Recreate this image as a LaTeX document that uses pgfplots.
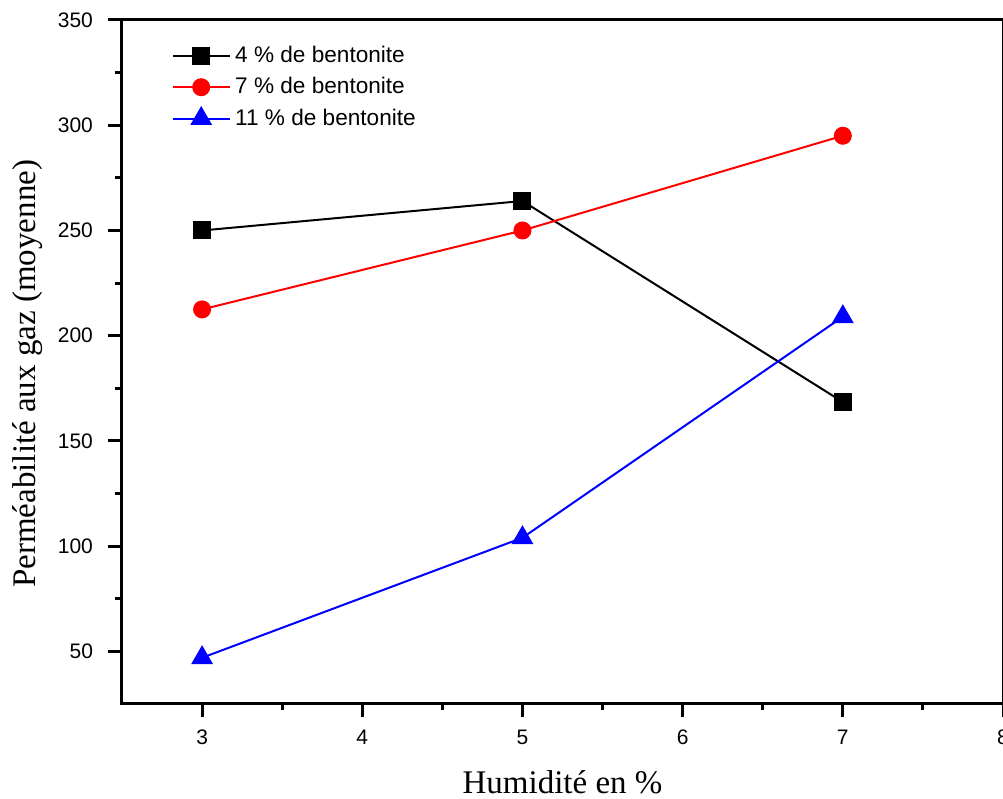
\documentclass[border=0pt]{standalone}
\usepackage{pgfplots}
\pgfplotsset{compat=1.18}
\usepackage{fontspec}
\setmainfont{Liberation Serif}
\newfontfamily\sansf{Liberation Sans}

\begin{document}
\begin{tikzpicture}
  \begin{axis}[
    scale only axis,
    width=440.5pt, height=341.5pt,
    xmin=2.5, xmax=8, ymin=25.5, ymax=350,
    xtick={3,4,5,6,7,8},
    ytick={50,100,150,200,250,300,350},
    minor x tick num=1, minor y tick num=1,
    tick pos=left, tick align=outside,
    major tick length=7pt, minor tick length=3.5pt,
    axis line style={line width=1.5pt},
    every tick/.style={black, line width=1.5pt},
    tick label style={font=\sansf\fontsize{10.5}{12}\selectfont},
    /pgf/number format/assume math mode=true,
    xticklabel style={yshift=-3pt},
    yticklabel style={xshift=-4pt},
    xlabel={Humidité en \%},
    ylabel={Perméabilité aux gaz (moyenne)},
    label style={font=\fontsize{16.5}{18}\selectfont},
    xlabel style={at={(axis description cs:0.5,-0.1157)}, anchor=center},
    ylabel style={at={(axis description cs:-0.107,0.482)}, anchor=center},
    legend style={at={(rel axis cs:0.052,0.974)}, anchor=north west, draw=none,
      fill=none, font=\sansf\fontsize{11.3}{13}\selectfont,
      row sep=2pt, inner sep=2pt},
    legend cell align=left,
    legend image code/.code={
      \draw[mark repeat=2, mark phase=2] plot coordinates {(0pt,0pt) (14pt,0pt) (28.5pt,0pt)};
    },
  ]
    \addplot[black, line width=1pt, mark=square*, mark size=4pt,
      mark options={solid, fill=black}]
      coordinates {(3,250) (5,264) (7,168.5)};
    \addlegendentry{4 \% de bentonite}

    \addplot[red, line width=1pt, mark=*, mark size=4pt,
      mark options={solid, fill=red}]
      coordinates {(3,212.5) (5,250) (7,295)};
    \addlegendentry{7 \% de bentonite}

    \addplot[blue, line width=1pt, mark=triangle*, mark size=5.3pt,
      mark options={solid, fill=blue}]
      coordinates {(3,47) (5,104) (7,209)};
    \addlegendentry{11 \% de bentonite}

    \coordinate (sw) at (rel axis cs:0,0);
    \coordinate (ne) at (rel axis cs:1,1);
  \end{axis}
  \pgfresetboundingbox
  \path (sw) ++(-61pt,-47.5pt) coordinate (a);
  \path (ne) ++(-1pt,10pt) coordinate (b);
  \path[use as bounding box] (a) rectangle (b);
\end{tikzpicture}
\end{document}
